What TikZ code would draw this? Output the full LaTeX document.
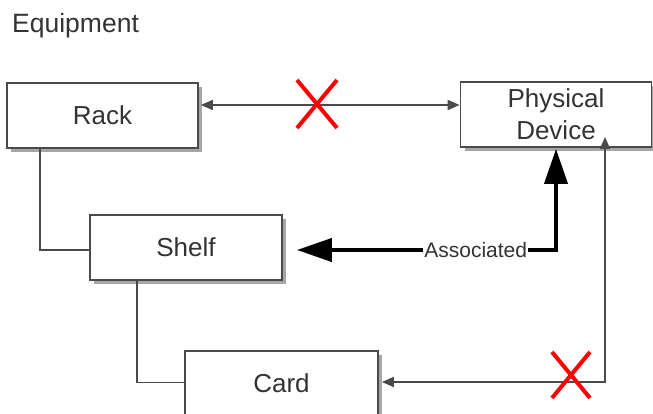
\documentclass[tikz,border=0pt]{standalone}
\usepackage{fontspec}
\setmainfont{Liberation Sans}
\usetikzlibrary{arrows.meta,shadows,calc}
\definecolor{txt}{HTML}{333333}
\definecolor{ln}{HTML}{4A4A4A}
\tikzset{
  box/.style={draw=ln, line width=1.8pt, fill=white, minimum width=191pt, minimum height=65pt,
    inner sep=0pt, text=txt, font=\fontsize{26}{32}\selectfont, align=center,
    drop shadow={shadow xshift=4pt, shadow yshift=-4pt, fill=black!35, opacity=1}},
  conn/.style={draw=ln, line width=1.8pt},
  thinarrow/.style={conn, {Triangle[length=12pt,width=10pt]}-{Triangle[length=12pt,width=10pt]}},
  assoc/.style={draw=black, line width=4pt, {Triangle[length=35pt,width=23pt]}-{Triangle[length=35pt,width=23pt]}},
  redx/.style={draw=red, line width=4pt},
  lbl/.style={fill=white, inner sep=1pt, text=txt, font=\fontsize{21}{24}\selectfont}
}
\begin{document}
\begin{tikzpicture}[x=1pt,y=-1pt]
\clip (0,0) rectangle (653,414);
\useasboundingbox (0,0) rectangle (653,414);
\node[anchor=base west, inner sep=0pt, text=txt, font=\fontsize{26.5}{30}\selectfont] (title) at (12,33) {Equipment};
\node[box] (rack) at (102.5,115.5) {Rack};
\node[box] (pd) at (556,114.5) {Physical\\Device};
\node[box, minimum width=192pt] (shelf) at (186,247.5) {Shelf};
\node[box, minimum width=193pt] (card) at (281.5,383.5) {Card};
% hierarchy connectors
\draw[conn] ([xshift=34pt]rack.south west) |- ([yshift=-2.5pt]shelf.west);
\draw[conn] ([xshift=47.5pt]shelf.south west) |- ([yshift=1pt]card.west);
% rack <-> physical device
\draw[thinarrow] ([xshift=2pt,yshift=10.5pt]rack.east) -- ([yshift=10.5pt]rack.east -| pd.west);
\coordinate (x1) at (317,104);
\draw[redx] ($(x1)+(-20,-24)$) -- ($(x1)+(20,24)$) ($(x1)+(20,-24)$) -- ($(x1)+(-20,24)$);
% associated
\draw[assoc] ([yshift=-1pt]pd.south) |- node[lbl, pos=0.655] {Associated} ([xshift=14pt,yshift=-2.5pt]shelf.east);
% card <-> physical device
\coordinate (pdin) at ([xshift=49pt,yshift=-22.5pt]pd.center);
\draw[thinarrow] (pdin) |- ([xshift=3pt,yshift=1.5pt]card.east);
\coordinate (x2) at (571,375);
\draw[redx] ($(x2)+(-19,-23)$) -- ($(x2)+(19,23)$) ($(x2)+(19,-23)$) -- ($(x2)+(-19,23)$);
\end{tikzpicture}
\end{document}
